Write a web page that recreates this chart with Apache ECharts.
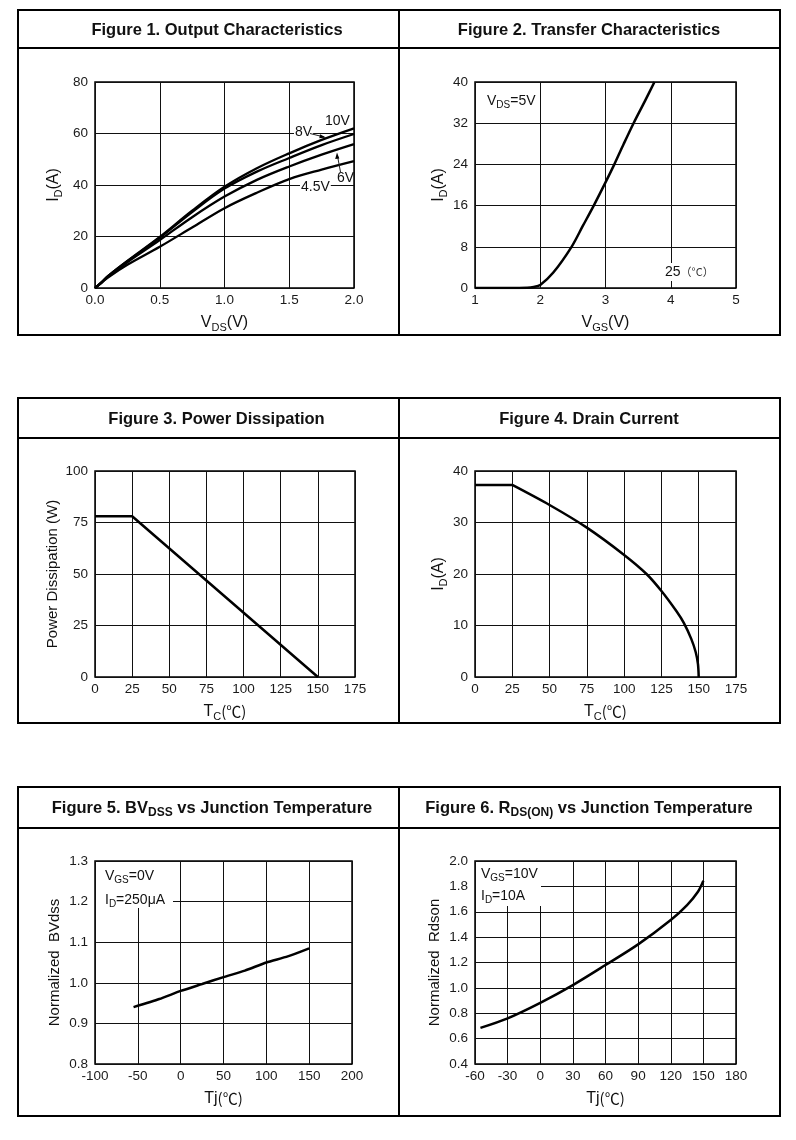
<!DOCTYPE html>
<html><head><meta charset="utf-8">
<script src="https://cdn.jsdelivr.net/npm/echarts@6/dist/echarts.min.js"></script>
<style>html,body{margin:0;padding:0;background:#fff}#c{width:796px;height:1140px}</style>
</head><body><div id="c"></div>
<script>
// ---------- data ----------
const fig1Vds   = [0, 0.05, 0.1, 0.25, 0.5, 0.75, 1.0, 1.25, 1.5, 1.75, 2.0];
const fig1Id10V = [0, 2.2, 4.6, 10.5, 19.8, 30.0, 39.3, 46.5, 52.3, 57.5, 62.0];
const fig1Id8V  = [0, 2.2, 4.6, 10.4, 19.5, 29.5, 38.6, 45.2, 50.5, 55.5, 59.8];
const fig1Id6V  = [0, 2.1, 4.4, 10.0, 18.6, 27.5, 35.5, 42.0, 47.2, 51.8, 55.9];
const fig1Id45V = [0, 2.0, 4.1, 9.0, 16.0, 23.5, 31.0, 37.0, 42.3, 46.0, 49.3];

const fig2Vgs = [1.0, 1.5, 1.8, 1.9, 2.0, 2.2, 2.48, 2.65, 2.82, 3.0, 3.135, 3.28, 3.43, 3.6, 3.75];
const fig2Id  = [0, 0, 0.05, 0.2, 0.6, 3.0, 8.0, 12.0, 16.0, 20.5, 24.0, 28.0, 32.0, 36.2, 40.0];

const fig3Tc = [0, 25, 150];
const fig3Pd = [78, 78, 0];

const fig4Tc = [0, 25, 50, 75, 100, 115, 125, 135, 140, 145, 148, 149.5, 150];
const fig4Id = [37.3, 37.3, 33.4, 29.0, 23.7, 20.0, 16.7, 12.8, 10.5, 7.4, 4.8, 2.5, 0];

const fig5Tj = [-55, -25, 0, 25, 50, 75, 100, 125, 150];
const fig5Bv = [0.940, 0.960, 0.980, 0.997, 1.014, 1.030, 1.050, 1.065, 1.085];

const fig6Tj = [-55, -30, 0, 30, 60, 90, 120, 135, 145, 150];
const fig6R  = [0.685, 0.76, 0.882, 1.022, 1.18, 1.343, 1.535, 1.653, 1.758, 1.845];

const titles = [
  'Figure 1. Output Characteristics',
  'Figure 2. Transfer Characteristics',
  'Figure 3. Power Dissipation',
  'Figure 4. Drain Current',
  '{b|Figure 5. BV}{s|DSS}{b| vs Junction Temperature}',
  '{b|Figure 6. R}{s|DS(ON)}{b| vs Junction Temperature}'
];

// ---------- helpers ----------
const FONT = '"Liberation Sans", Arial, "Noto Sans CJK SC", sans-serif';
const pairs = (xs, ys) => xs.map((x, i) => [x, ys[i]]);
const nameRich = {
  n: {fontSize: 16, lineHeight: 21, fontFamily: FONT, color: '#111'},
  p: {fontSize: 15, lineHeight: 21, fontFamily: FONT, color: '#111'},
  s: {fontSize: 11, lineHeight: 11, verticalAlign: 'bottom', fontFamily: FONT, color: '#111'},
  c: {fontSize: 15, lineHeight: 21, fontFamily: '"Noto Sans CJK SC", sans-serif', color: '#111'}
};
const grids = [
  {left: 95, top: 82, width: 259, height: 206},
  {left: 475, top: 82, width: 261, height: 206},
  {left: 95, top: 471, width: 260, height: 206},
  {left: 475, top: 471, width: 261, height: 206},
  {left: 95, top: 861, width: 257, height: 203},
  {left: 475, top: 861, width: 261, height: 203}
].map(g => Object.assign({show: true, borderColor: '#000', borderWidth: 1.5, containLabel: false}, g));

function xAx(i, min, max, interval, name, fmt) {
  return {
    type: 'value', gridIndex: i, min, max, interval,
    axisLine: {show: false}, axisTick: {show: false},
    splitLine: {show: true, lineStyle: {color: '#111', width: 1}},
    axisLabel: {fontSize: 13.5, color: '#1a1a1a', fontFamily: FONT, margin: 6, formatter: fmt},
    name, nameLocation: 'middle', nameGap: 24,
    nameTextStyle: {fontFamily: FONT, fontSize: 16, color: '#111', rich: nameRich}
  };
}
function yAx(i, min, max, interval, name, gap, fmt) {
  return {
    type: 'value', gridIndex: i, min, max, interval,
    axisLine: {show: false}, axisTick: {show: false},
    splitLine: {show: true, lineStyle: {color: '#111', width: 1}},
    axisLabel: {fontSize: 13.5, color: '#1a1a1a', fontFamily: FONT, margin: 7, formatter: fmt},
    name, nameLocation: 'middle', nameGap: gap,
    nameTextStyle: {fontFamily: FONT, fontSize: 16, color: '#111', rich: nameRich}
  };
}
const f1 = v => v.toFixed(1);
function line(i, data, smooth, width) {
  return {
    type: 'line', xAxisIndex: i, yAxisIndex: i, data, smooth: smooth, symbol: 'none',
    lineStyle: {color: '#000', width: width || 2.5}, z: 3, animation: false
  };
}

const xAxes = [
  xAx(0, 0, 2, 0.5, '{n|V}{s|DS}{n|(V)}', f1),
  xAx(1, 1, 5, 1, '{n|V}{s|GS}{n|(V)}'),
  xAx(2, 0, 175, 25, '{n|T}{s|C}{c|(℃)}'),
  xAx(3, 0, 175, 25, '{n|T}{s|C}{c|(℃)}'),
  xAx(4, -100, 200, 50, '{n|Tj}{c|(℃)}'),
  xAx(5, -60, 180, 30, '{n|Tj}{c|(℃)}')
];
const yAxes = [
  yAx(0, 0, 80, 20, '{n|I}{s|D}{n|(A)}', 31),
  yAx(1, 0, 40, 8, '{n|I}{s|D}{n|(A)}', 26),
  yAx(2, 0, 100, 25, '{p|Power Dissipation (W)}', 32),
  yAx(3, 0, 40, 10, '{n|I}{s|D}{n|(A)}', 26),
  yAx(4, 0.8, 1.3, 0.1, '{p|Normalized  BVdss}', 30, f1),
  yAx(5, 0.4, 2.0, 0.2, '{p|Normalized  Rdson}', 30, f1)
];

const series = [
  line(0, pairs(fig1Vds, fig1Id10V), 0.35, 2.3),
  line(0, pairs(fig1Vds, fig1Id8V), 0.35, 2.3),
  line(0, pairs(fig1Vds, fig1Id6V), 0.35, 2.3),
  line(0, pairs(fig1Vds, fig1Id45V), 0.35, 2.3),
  line(1, pairs(fig2Vgs, fig2Id), 0.3),
  line(2, pairs(fig3Tc, fig3Pd), false),
  line(3, pairs(fig4Tc, fig4Id).slice(0, 2), false),
  line(3, pairs(fig4Tc, fig4Id).slice(1), 0.3),
  line(4, pairs(fig5Tj, fig5Bv), 0.2),
  line(5, pairs(fig6Tj, fig6R), 0.3)
];

// ---------- frames / titles / annotations ----------
const g = [];
const rows = [{y: 10, sep: 48, b: 335}, {y: 398, sep: 438, b: 723}, {y: 787, sep: 828, b: 1116}];
const titleX = [217, 589, 216.5, 589, 212, 589];
const L = 18, R = 780, MID = 399;
rows.forEach((r, k) => {
  g.push({type: 'rect', shape: {x: L, y: r.y, width: R - L, height: r.b - r.y}, style: {fill: 'none', stroke: '#000', lineWidth: 2}, z: 20});
  g.push({type: 'line', shape: {x1: L, y1: r.sep, x2: R, y2: r.sep}, style: {stroke: '#000', lineWidth: 2}, z: 20});
  g.push({type: 'line', shape: {x1: MID, y1: r.y, x2: MID, y2: r.b}, style: {stroke: '#000', lineWidth: 2}, z: 20});
  [0, 1].forEach(c => {
    const t = titles[k * 2 + c];
    g.push({type: 'text', x: titleX[k * 2 + c], y: (r.y + r.sep) / 2 + 1, z: 20,
      style: {text: t, align: 'center', verticalAlign: 'middle', fill: '#111',
        font: 'bold 16.5px ' + FONT,
        rich: {b: {font: 'bold 16.5px ' + FONT, lineHeight: 21, fill: '#111'},
               s: {font: 'bold 12px ' + FONT, lineHeight: 17, verticalAlign: 'bottom', fill: '#111'}}}});
  });
});
const annRich = {
  n: {font: '14px ' + FONT, lineHeight: 18, fill: '#111'},
  s: {font: '10px ' + FONT, lineHeight: 9, verticalAlign: 'bottom', fill: '#111'},
  m: {font: '11px "Noto Sans CJK SC", sans-serif', lineHeight: 18, fill: '#333'}
};
function ann(x, y, text, bg) {
  return {type: 'text', x, y, z: 30, style: {text, align: 'left', verticalAlign: 'middle', rich: annRich,
    backgroundColor: bg ? '#fff' : undefined, padding: bg ? [0, 1] : 0}};
}
// figure 1 curve labels
g.push(ann(325, 121, '{n|10V}'));
g.push(ann(294, 132, '{n|8V}', true));
g.push(ann(337, 178, '{n|6V}'));
g.push(ann(300, 187, '{n|4.5V}', true));
g.push({type: 'line', shape: {x1: 310, y1: 133.5, x2: 324, y2: 137}, style: {stroke: '#222', lineWidth: 1}, z: 30});
g.push({type: 'polygon', shape: {points: [[326, 137.6], [320, 134.3], [319.3, 138.2]]}, style: {fill: '#000'}, z: 30});
g.push({type: 'line', shape: {x1: 340.5, y1: 172, x2: 337.5, y2: 156}, style: {stroke: '#222', lineWidth: 1}, z: 30});
g.push({type: 'polygon', shape: {points: [[337, 152.5], [335.2, 159], [339.3, 158.4]]}, style: {fill: '#000'}, z: 30});
// figure 2
g.push(ann(487, 101, '{n|V}{s|DS}{n|=5V}'));
g.push(ann(664, 272, '{n|25}{m|（°C）}', true));
// figure 5
g.push({type: 'rect', shape: {x: 96, y: 862, width: 77, height: 46}, style: {fill: '#fff'}, z: 25});
g.push(ann(105, 876, '{n|V}{s|GS}{n|=0V}'));
g.push(ann(105, 900, '{n|I}{s|D}{n|=250μA}'));
// figure 6
g.push({type: 'rect', shape: {x: 476, y: 862, width: 65, height: 44}, style: {fill: '#fff'}, z: 25});
g.push(ann(481, 874, '{n|V}{s|GS}{n|=10V}'));
g.push(ann(481, 896, '{n|I}{s|D}{n|=10A}'));

const chart = echarts.init(document.getElementById('c'), null, {renderer: 'canvas'});
chart.setOption({
  animation: false,
  backgroundColor: '#fff',
  grid: grids,
  xAxis: xAxes,
  yAxis: yAxes,
  series,
  graphic: g
});
</script></body></html>
